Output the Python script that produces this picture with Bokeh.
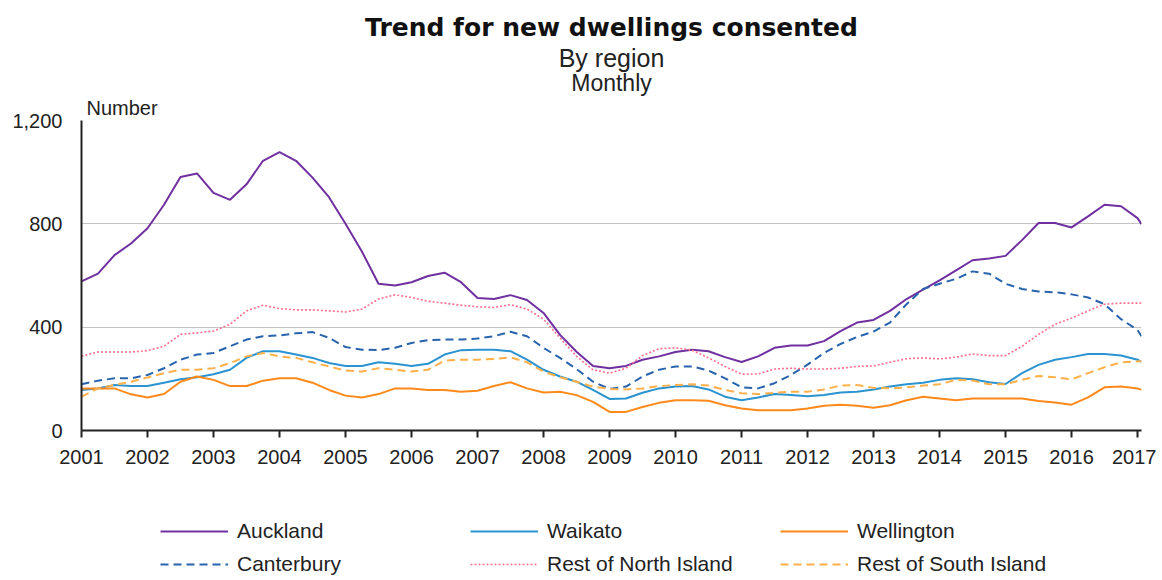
from bokeh.plotting import figure
from bokeh.layouts import column
from bokeh.models import Range1d, FixedTicker, NumeralTickFormatter, Legend, LegendItem, Title
from bokeh.embed import file_html
from bokeh.resources import INLINE

# quarterly observation times (year fractions), last point = latest month shown
years = [2001 + q / 4 for q in range(65)] + [2017.06]
year_ticks = list(range(2001, 2018))
value_ticks = [0, 400, 800, 1200]

auckland = [577, 607, 679, 724, 783, 874, 981, 995, 920, 893, 953, 1044,
            1078, 1044, 979, 903, 800, 692, 568, 561, 574, 598, 611, 574,
            513, 509, 524, 505, 455, 370, 305, 250, 241, 250, 274, 287,
            304, 313, 307, 284, 265, 287, 320, 329, 329, 346, 385, 418,
            428, 463, 509, 545, 581, 620, 659, 666, 676, 737, 803, 803,
            786, 829, 874, 868, 822, 799]
waikato = [157, 163, 176, 172, 172, 185, 198, 206, 218, 235, 281, 307,
           307, 294, 281, 261, 250, 250, 264, 258, 250, 258, 294, 311,
           313, 313, 307, 274, 235, 209, 189, 157, 122, 124, 146, 163,
           170, 172, 159, 131, 117, 128, 141, 137, 133, 137, 147, 150,
           159, 170, 179, 185, 196, 202, 198, 187, 180, 222, 254, 274,
           284, 296, 296, 290, 274, 266]
wellington = [163, 163, 163, 140, 128, 141, 189, 209, 196, 172, 172, 193,
              202, 202, 185, 157, 135, 128, 141, 163, 163, 157, 157, 150,
              154, 172, 187, 163, 147, 150, 137, 111, 72, 72, 91, 107,
              117, 117, 115, 98, 85, 78, 78, 78, 85, 96, 100, 96,
              88, 98, 117, 131, 124, 117, 124, 124, 124, 124, 114, 108,
              100, 128, 167, 170, 163, 157]
canterbury = [179, 193, 202, 202, 215, 241, 274, 294, 300, 326, 352, 365,
              368, 376, 381, 359, 323, 313, 311, 320, 339, 350, 352, 352,
              356, 365, 382, 365, 320, 281, 238, 189, 161, 170, 209, 235,
              248, 248, 232, 202, 167, 163, 183, 215, 255, 300, 335, 362,
              383, 418, 489, 548, 568, 587, 616, 607, 568, 548, 538, 535,
              527, 515, 489, 431, 389, 365]
rest_north = [287, 304, 304, 304, 309, 326, 372, 378, 385, 411, 463, 485,
              472, 467, 467, 463, 459, 470, 509, 525, 515, 500, 493, 485,
              479, 476, 487, 470, 431, 359, 287, 235, 222, 241, 290, 316,
              320, 311, 281, 248, 218, 219, 238, 241, 238, 238, 241, 248,
              250, 264, 278, 281, 277, 284, 296, 290, 290, 326, 372, 411,
              435, 463, 489, 493, 493, 493]
rest_south = [131, 163, 176, 189, 205, 222, 235, 235, 241, 261, 287, 300,
              287, 281, 264, 248, 232, 228, 241, 235, 228, 235, 270, 274,
              274, 277, 283, 264, 228, 206, 189, 170, 161, 159, 163, 172,
              176, 179, 174, 157, 144, 141, 146, 150, 150, 159, 174, 176,
              165, 163, 167, 174, 179, 196, 193, 179, 179, 196, 211, 206,
              198, 222, 245, 264, 268, 268]

names = ["Auckland", "Waikato", "Wellington", "Canterbury",
         "Rest of North Island", "Rest of South Island"]
series = [auckland, waikato, wellington, canterbury, rest_north, rest_south]
styles = [dict(line_color="#7030a0", line_width=2),
          dict(line_color="#2a93d0", line_width=2),
          dict(line_color="#ff8a1c", line_width=2),
          dict(line_color="#2864ae", line_width=2, line_dash="8 5"),
          dict(line_color="#ff6f8f", line_width=1.6, line_dash="2 2"),
          dict(line_color="#ffb04a", line_width=2, line_dash="8 5")]

FONT = "Liberation Sans"
TXT = "#222222"
W = 1156

p = figure(width=W, height=476, output_backend="svg", toolbar_location=None,
           title=None, x_range=Range1d(2001, 2017.06), y_range=Range1d(0, 1200),
           min_border_left=81, min_border_right=15, min_border_top=120,
           min_border_bottom=46)
p.outline_line_color = None
p.background_fill_color = "white"
p.border_fill_color = "white"

p.xgrid.visible = False
p.ygrid.ticker = FixedTicker(ticks=value_ticks[1:])
p.ygrid.grid_line_color = "#c4c4c4"
p.ygrid.grid_line_width = 1

p.yaxis.ticker = FixedTicker(ticks=value_ticks)
p.yaxis.formatter = NumeralTickFormatter(format="0,0")
p.yaxis.major_tick_line_color = None
p.yaxis.major_tick_out = 0
p.yaxis.major_tick_in = 0
p.yaxis.minor_tick_line_color = None
p.yaxis.axis_line_width = 2
p.yaxis.axis_line_color = TXT
p.yaxis.major_label_standoff = 19
p.yaxis.major_label_text_font = FONT
p.yaxis.major_label_text_font_size = "20px"
p.yaxis.major_label_text_color = TXT

p.xaxis.ticker = FixedTicker(ticks=year_ticks)
p.xaxis.minor_tick_line_color = None
p.xaxis.major_tick_in = 0
p.xaxis.major_tick_out = 7
p.xaxis.major_tick_line_width = 2
p.xaxis.major_tick_line_color = TXT
p.xaxis.axis_line_width = 2
p.xaxis.axis_line_color = TXT
p.xaxis.major_label_standoff = 12
p.xaxis.major_label_text_font = FONT
p.xaxis.major_label_text_font_size = "20px"
p.xaxis.major_label_text_color = TXT

for vals, st in zip(series, styles):
    p.line(years, vals, **st)

# titles stack outward from the frame: nearest first
p.add_layout(Title(text="Number", align="left", offset=5, standoff=4,
                   text_font=FONT, text_font_size="20px", text_font_style="normal",
                   text_color=TXT), "above")
p.add_layout(Title(text="Monthly", align="center", standoff=-7,
                   text_font=FONT, text_font_size="23px", text_font_style="normal",
                   text_color=TXT), "above")
p.add_layout(Title(text="By region", align="center", standoff=0,
                   text_font=FONT, text_font_size="25px", text_font_style="normal",
                   text_color=TXT), "above")
p.add_layout(Title(text="Trend for new dwellings consented", align="center", standoff=0,
                   text_font="DejaVu Sans", text_font_size="25px", text_font_style="bold",
                   text_color="#111111"), "above")

# legend strip under the chart (its frame is aligned with the chart's frame)
q = figure(width=W, height=100, output_backend="svg", toolbar_location=None,
           title=None, x_axis_type=None, y_axis_type=None,
           x_range=Range1d(0, 1), y_range=Range1d(0, 1),
           min_border_left=0, min_border_right=0, min_border_top=0, min_border_bottom=0)
q.outline_line_color = None
q.xgrid.visible = False
q.ygrid.visible = False
items = []
for name, st in zip(names, styles):
    r = q.line(x=[float("nan")], y=[float("nan")], **st)
    items.append(LegendItem(label=name, renderers=[r]))
legend = Legend(items=items, location=(79, 0), orientation="horizontal", ncols=3,
                glyph_width=68, glyph_height=20, label_standoff=9, label_width=224,
                label_height=20, spacing=9, padding=0, margin=0,
                border_line_color=None, background_fill_alpha=0,
                label_text_font=FONT, label_text_font_size="21px", label_text_color=TXT)
q.add_layout(legend)

open("out.html", "w").write(file_html(column(p, q, spacing=0), INLINE))
